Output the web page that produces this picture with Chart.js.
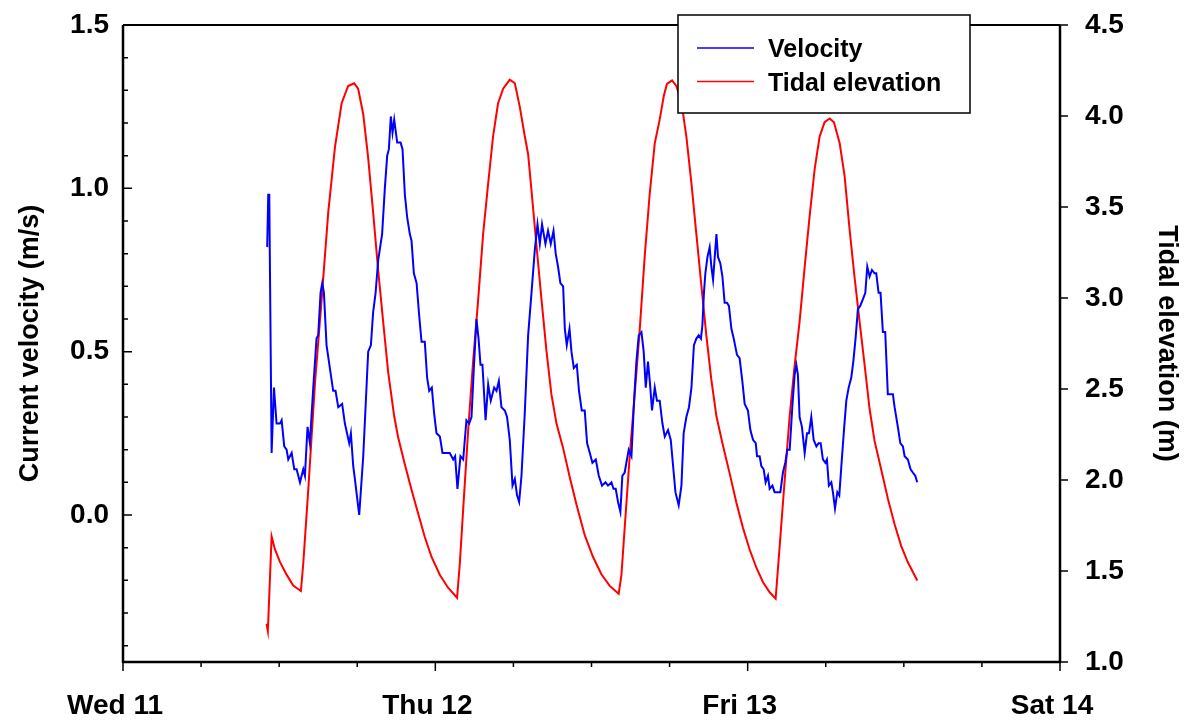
<!DOCTYPE html>
<html>
<head>
<meta charset="utf-8">
<script src="https://cdn.jsdelivr.net/npm/chart.js@4.4.1/dist/chart.umd.min.js"></script>
<style>
  html, body { margin: 0; padding: 0; background: #fff; }
  #tidechart { display: block; }
</style>
</head>
<body>
<canvas id="tidechart" width="1196" height="724"></canvas>
<script>
// hours since Wed 11 00:00
var dayLabels = ['Wed 11', 'Thu 12', 'Fri 13', 'Sat 14']

var velHours = [11.08, 11.16, 11.24, 11.42, 11.60, 11.80, 12.06, 12.19, 12.39, 12.57, 12.70, 12.96, 13.16, 13.34, 13.60, 13.85, 13.98, 14.18, 14.36, 14.62,
    14.87, 15.00, 15.18, 15.31, 15.44, 15.64, 15.82, 16.15, 16.33, 16.54, 16.84, 17.05, 17.38, 17.51, 17.69, 17.82, 18.15, 18.46, 18.84, 19.05,
    19.22, 19.41, 19.61, 19.91, 20.12, 20.30, 20.43, 20.58, 20.71, 20.84, 21.07, 21.33, 21.48, 21.66, 21.84, 22.04, 22.17, 22.35, 22.56, 22.76,
    22.94, 23.19, 23.37, 23.53, 23.73, 23.91, 24.09, 24.35, 24.55, 24.81, 25.11, 25.37, 25.52, 25.70, 25.93, 26.14, 26.39, 26.60, 26.78, 26.96,
    27.16, 27.32, 27.47, 27.62, 27.86, 28.06, 28.26, 28.52, 28.70, 28.88, 29.08, 29.34, 29.51, 29.72, 29.93, 30.11, 30.28, 30.44, 30.62, 30.87,
    31.13, 31.39, 31.64, 31.85, 32.03, 32.20, 32.46, 32.66, 32.87, 33.08, 33.25, 33.43, 33.61, 33.82, 33.95, 34.10, 34.31, 34.46, 34.64, 34.87,
    35.04, 35.25, 35.48, 35.66, 35.87, 36.07, 36.33, 36.56, 36.81, 37.07, 37.27, 37.53, 37.69, 37.86, 38.04, 38.22, 38.37, 38.55, 38.68, 38.86,
    39.07, 39.27, 39.45, 39.63, 39.84, 40.01, 40.17, 40.34, 40.50, 40.65, 40.86, 41.03, 41.24, 41.45, 41.63, 41.88, 42.09, 42.27, 42.45, 42.70,
    42.91, 43.08, 43.29, 43.49, 43.68, 43.87, 44.06, 44.24, 44.41, 44.52, 44.64, 44.75, 44.91, 45.08, 45.21, 45.34, 45.47, 45.60, 45.72, 45.90,
    46.06, 46.23, 46.41, 46.56, 46.75, 46.93, 47.18, 47.38, 47.59, 47.77, 48.02, 48.21, 48.41, 48.62, 48.72, 48.92, 49.05, 49.23, 49.38, 49.56,
    49.69, 49.90, 50.07, 50.33, 50.51, 50.71, 50.89, 51.05, 51.23, 51.43, 51.61, 51.74, 51.86, 51.99, 52.17, 52.38, 52.56, 52.71, 52.89, 53.07,
    53.28, 53.45, 53.61, 53.78, 53.97, 54.09, 54.24, 54.43, 54.55, 54.71, 54.89, 55.04, 55.20, 55.40, 55.58, 55.76, 55.96, 56.12, 56.29, 56.47,
    56.65, 56.85, 57.04, 57.19, 57.37, 57.55, 57.75, 57.88, 58.06, 58.21, 58.39, 58.57, 58.77, 58.91, 59.16, 59.29, 59.54, 59.73, 59.93, 60.06,
    60.31, 60.52, 60.69, 60.88, 61.03]
var velValues = [0.82, 0.98, 0.98, 0.19, 0.39, 0.28, 0.28, 0.29, 0.21, 0.20, 0.17, 0.19, 0.14, 0.14, 0.10, 0.14, 0.12, 0.27, 0.22, 0.39,
    0.54, 0.55, 0.68, 0.71, 0.68, 0.52, 0.47, 0.38, 0.38, 0.33, 0.34, 0.28, 0.22, 0.25, 0.15, 0.11, 0.00, 0.18, 0.50, 0.52,
    0.62, 0.68, 0.78, 0.86, 1.00, 1.10, 1.12, 1.22, 1.17, 1.21, 1.14, 1.14, 1.12, 0.98, 0.91, 0.86, 0.84, 0.74, 0.71, 0.61,
    0.53, 0.53, 0.42, 0.38, 0.39, 0.31, 0.25, 0.24, 0.19, 0.19, 0.19, 0.17, 0.18, 0.08, 0.18, 0.17, 0.29, 0.28, 0.30, 0.45,
    0.60, 0.54, 0.46, 0.46, 0.29, 0.40, 0.35, 0.39, 0.38, 0.41, 0.33, 0.32, 0.30, 0.23, 0.09, 0.11, 0.06, 0.04, 0.12, 0.31,
    0.55, 0.68, 0.81, 0.89, 0.83, 0.89, 0.83, 0.87, 0.83, 0.87, 0.80, 0.76, 0.71, 0.70, 0.57, 0.52, 0.57, 0.50, 0.45, 0.46,
    0.38, 0.32, 0.32, 0.22, 0.19, 0.16, 0.17, 0.12, 0.09, 0.10, 0.09, 0.10, 0.08, 0.08, 0.04, 0.01, 0.12, 0.13, 0.16, 0.20,
    0.18, 0.35, 0.47, 0.55, 0.56, 0.50, 0.39, 0.47, 0.40, 0.32, 0.39, 0.35, 0.35, 0.28, 0.24, 0.26, 0.23, 0.15, 0.07, 0.03,
    0.09, 0.25, 0.30, 0.33, 0.39, 0.52, 0.54, 0.55, 0.54, 0.58, 0.68, 0.74, 0.79, 0.82, 0.76, 0.72, 0.79, 0.86, 0.79, 0.77,
    0.73, 0.65, 0.65, 0.64, 0.57, 0.54, 0.49, 0.48, 0.41, 0.34, 0.32, 0.26, 0.23, 0.22, 0.18, 0.18, 0.15, 0.14, 0.10, 0.12,
    0.08, 0.09, 0.07, 0.07, 0.07, 0.13, 0.16, 0.20, 0.20, 0.33, 0.43, 0.46, 0.43, 0.30, 0.27, 0.19, 0.25, 0.25, 0.30, 0.23,
    0.21, 0.22, 0.22, 0.17, 0.16, 0.17, 0.09, 0.10, 0.07, 0.02, 0.07, 0.06, 0.15, 0.26, 0.35, 0.39, 0.42, 0.47, 0.54, 0.63,
    0.64, 0.66, 0.68, 0.76, 0.73, 0.75, 0.74, 0.74, 0.68, 0.68, 0.56, 0.56, 0.37, 0.37, 0.37, 0.33, 0.27, 0.22, 0.21, 0.18,
    0.17, 0.14, 0.13, 0.12, 0.10]

var tideHours = [11.03, 11.13, 11.42, 11.67, 12.06, 12.57, 13.08, 13.67, 13.85, 14.23, 14.75, 15.26, 15.77, 16.29, 16.80, 17.30, 17.76, 18.07, 18.46, 18.84,
    19.22, 19.61, 19.99, 20.38, 20.84, 21.14, 21.66, 22.17, 22.68, 23.19, 23.71, 24.35, 24.98, 25.67, 25.88, 26.14, 26.52, 26.90, 27.29, 27.67,
    28.06, 28.44, 28.82, 29.21, 29.72, 30.11, 30.49, 30.87, 31.13, 31.39, 31.77, 32.16, 32.54, 32.92, 33.31, 33.82, 34.33, 34.84, 35.48, 36.12,
    36.76, 37.40, 38.09, 38.30, 38.55, 38.94, 39.32, 39.71, 40.09, 40.47, 40.86, 41.24, 41.57, 41.80, 42.19, 42.52, 42.91, 43.29, 43.68, 44.06,
    44.44, 44.83, 45.21, 45.60, 46.10, 46.62, 47.13, 47.64, 48.15, 48.67, 49.18, 49.69, 50.15, 50.46, 50.84, 51.23, 51.61, 51.99, 52.38, 52.76,
    53.15, 53.53, 53.91, 54.30, 54.63, 55.07, 55.45, 55.84, 56.22, 56.60, 56.99, 57.37, 57.75, 58.27, 58.78, 59.29, 59.80, 60.31, 61.03]
var tideValues = [1.21, 1.17, 1.69, 1.62, 1.55, 1.48, 1.42, 1.39, 1.54, 1.94, 2.53, 2.99, 3.47, 3.83, 4.07, 4.165, 4.18, 4.15, 4.01, 3.77,
    3.47, 3.15, 2.87, 2.59, 2.35, 2.235, 2.085, 1.946, 1.816, 1.687, 1.577, 1.478, 1.408, 1.353, 1.54, 1.84, 2.27, 2.65, 2.99, 3.35,
    3.63, 3.89, 4.07, 4.15, 4.20, 4.18, 4.05, 3.89, 3.79, 3.59, 3.29, 2.99, 2.71, 2.47, 2.31, 2.175, 2.015, 1.867, 1.697, 1.577,
    1.482, 1.418, 1.375, 1.478, 1.737, 2.135, 2.47, 2.83, 3.23, 3.57, 3.85, 3.98, 4.116, 4.176, 4.196, 4.165, 4.076, 3.887, 3.63, 3.35,
    3.07, 2.79, 2.55, 2.35, 2.19, 2.035, 1.876, 1.737, 1.618, 1.518, 1.438, 1.383, 1.348, 1.637, 1.996, 2.354, 2.63, 2.87, 3.17, 3.45,
    3.71, 3.887, 3.966, 3.986, 3.966, 3.85, 3.67, 3.37, 3.11, 2.87, 2.63, 2.39, 2.215, 2.055, 1.896, 1.757, 1.637, 1.548, 1.448]

var FONT = '"Liberation Sans", Arial, Helvetica, sans-serif'

function toPoints(xs, ys) {
    return xs.map(function (x, i) { return { x: x, y: ys[i] } })
}

function range(from, to, step) {
    var out = []
    for (var v = from; v <= to + 1e-9; v += step) out.push(Math.round(v * 100) / 100)
    return out
}

// fixed box sizes so the plot area lands where the original has it
function fixWidth(w) {
    return function (s) { s.width = w; s.paddingTop = 0; s.paddingBottom = 0 }
}

// axis frame, tick marks and the boxed legend, drawn on top of the data
var framePlugin = {
    id: 'frame',
    afterDraw: function (chart) {
        var ctx = chart.ctx
        var a = chart.chartArea
        var sx = chart.scales.x, sy = chart.scales.y, sy2 = chart.scales.y2
        ctx.save()
        ctx.strokeStyle = '#000'

        // box
        ctx.lineWidth = 2
        ctx.beginPath()
        ctx.moveTo(a.left, a.top); ctx.lineTo(a.right, a.top)
        ctx.stroke()
        ctx.lineWidth = 2.5
        ctx.beginPath()
        ctx.moveTo(a.left, a.top); ctx.lineTo(a.left, a.bottom + 1)
        ctx.moveTo(a.left - 1, a.bottom); ctx.lineTo(a.right + 1, a.bottom)
        ctx.moveTo(a.right, a.top); ctx.lineTo(a.right, a.bottom + 1)
        ctx.stroke()

        ctx.lineWidth = 1.5
        ctx.beginPath()
        // x ticks (outward)
        range(0, 72, 6).forEach(function (h) {
            var px = sx.getPixelForValue(h)
            ctx.moveTo(px, a.bottom); ctx.lineTo(px, a.bottom + (h % 24 === 0 ? 9 : 5))
        })
        // left ticks (inward)
        range(-0.4, 1.5, 0.1).forEach(function (v) {
            var py = sy.getPixelForValue(v)
            var major = Math.abs(v * 2 - Math.round(v * 2)) < 1e-6
            ctx.moveTo(a.left, py); ctx.lineTo(a.left + (major ? 9 : 5), py)
        })
        // right ticks (outward)
        range(1.0, 4.5, 0.5).forEach(function (v) {
            var py = sy2.getPixelForValue(v)
            ctx.moveTo(a.right, py); ctx.lineTo(a.right + 8, py)
        })
        ctx.stroke()

        // legend
        var lx = 678, ly = 15, lw = 292, lh = 98
        ctx.fillStyle = '#fff'
        ctx.fillRect(lx, ly, lw, lh)
        ctx.lineWidth = 1.5
        ctx.strokeRect(lx, ly, lw, lh)
        ctx.font = 'bold 25px ' + FONT
        ctx.textBaseline = 'alphabetic'
        ctx.textAlign = 'left'
        chart.data.datasets.forEach(function (ds, i) {
            var cy = 48 + i * 33.5
            ctx.strokeStyle = ds.borderColor
            ctx.lineWidth = 1.5
            ctx.beginPath()
            ctx.moveTo(697, cy); ctx.lineTo(754, cy)
            ctx.stroke()
            ctx.fillStyle = '#000'
            ctx.fillText(ds.label, 768, cy + 9)
        })
        ctx.restore()
    }
}

var tickFont = { family: FONT, size: 28, weight: 'bold' }
var titleFont = { family: FONT, size: 27, weight: 'bold' }

var chart = new Chart(document.getElementById('tidechart').getContext('2d'), {
    type: 'line',
    data: {
        datasets: [{
            label: 'Velocity',
            data: toPoints(velHours, velValues),
            borderColor: '#0000ff',
            borderWidth: 2,
            pointRadius: 0,
            tension: 0,
            yAxisID: 'y'
        }, {
            label: 'Tidal elevation',
            data: toPoints(tideHours, tideValues),
            borderColor: '#ff0000',
            borderWidth: 2,
            pointRadius: 0,
            tension: 0,
            yAxisID: 'y2'
        }]
    },
    options: {
        responsive: false,
        animation: false,
        devicePixelRatio: 1,
        layout: { padding: { top: 25, left: 0, right: 0, bottom: 0 } },
        plugins: { legend: { display: false }, tooltip: { enabled: false } },
        scales: {
            x: {
                type: 'linear',
                min: 0,
                max: 72,
                grid: { display: false, drawTicks: false },
                border: { display: false },
                afterFit: function (s) { s.height = 62; s.paddingLeft = 0; s.paddingRight = 0 },
                ticks: {
                    stepSize: 24,
                    padding: 27,
                    labelOffset: -8,
                    color: '#000',
                    font: tickFont,
                    maxRotation: 0,
                    callback: function (v) { return dayLabels[Math.round(v / 24)] }
                }
            },
            y: {
                type: 'linear',
                position: 'left',
                min: -0.45,
                max: 1.5,
                grid: { display: false, drawTicks: false },
                border: { display: false },
                afterFit: fixWidth(123),
                afterBuildTicks: function (s) {
                    s.ticks = s.ticks.filter(function (t) {
                        return t.value >= 0 && Math.abs(t.value * 2 - Math.round(t.value * 2)) < 1e-6
                    })
                },
                ticks: {
                    stepSize: 0.5,
                    padding: 14,
                    color: '#000',
                    font: tickFont,
                    callback: function (v) { return v.toFixed(1) }
                },
                title: {
                    display: true,
                    text: 'Current velocity (m/s)',
                    color: '#000',
                    font: titleFont,
                    padding: { top: 14, bottom: 0 }
                }
            },
            y2: {
                type: 'linear',
                position: 'right',
                min: 1.0,
                max: 4.5,
                grid: { display: false, drawTicks: false },
                border: { display: false },
                afterFit: fixWidth(136),
                ticks: {
                    stepSize: 0.5,
                    padding: 25,
                    color: '#000',
                    font: tickFont,
                    callback: function (v) { return v.toFixed(1) }
                },
                title: {
                    display: true,
                    text: 'Tidal elevation (m)',
                    color: '#000',
                    font: titleFont,
                    padding: { top: 13, bottom: 0 }
                }
            }
        }
    },
    plugins: [framePlugin]
})
</script>
</body>
</html>
